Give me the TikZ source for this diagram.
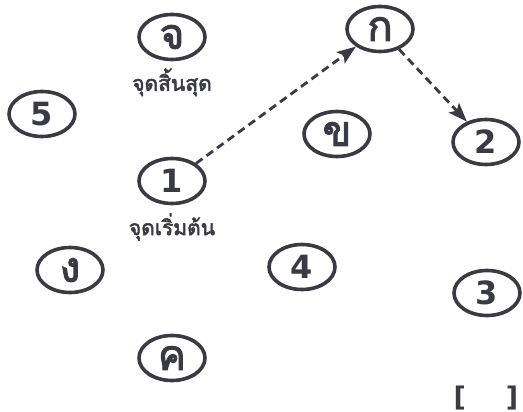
\documentclass[tikz,border=0pt]{standalone}
\usepackage{fontspec}
\newfontfamily\thaifont[Script=Thai,AutoFakeBold=2.5]{Loma}
\newfontfamily\digitfont{DejaVu Sans}
\usepackage{tikz}
\usetikzlibrary{shapes.geometric,arrows.meta,positioning}
\definecolor{ink}{RGB}{58,58,68}

\begin{document}
\begin{tikzpicture}[x=10pt,y=-10pt,
	pt/.style={ellipse,draw=ink,line width=3.6pt,text=ink,minimum width=66pt,minimum height=45pt,inner sep=0pt,font=\thaifont\bfseries\fontsize{42}{42}\selectfont},
	num/.style={pt,font=\digitfont\bfseries\fontsize{32}{32}\selectfont},
	note/.style={text=ink,inner sep=0pt,font=\thaifont\bfseries\fontsize{21}{21}\selectfont},
	route/.style={draw=ink,line width=2.8pt,dash pattern=on 8pt off 5pt,-{Stealth[length=19pt,width=14pt,inset=4pt]}}]
	\useasboundingbox (0,0) rectangle (52.3,41.2);
	%
	%  POINTS
	%
	\node[pt] (ja) at (17.2,3.7) {จ};
	\node[pt] (ka) at (38.0,2.9) {ก};
	\node[num] (n5) at (4.2,11.4) {5};
	\node[pt] (kha) at (33.7,13.4) {ข};
	\node[num] (n2) at (48.6,14.2) {2};
	\node[num] (n1) at (17.2,18.1) {1};
	\node[pt] (nga) at (7.0,27.0) {ง};
	\node[num] (n4) at (30.2,26.7) {4};
	\node[num] (n3) at (48.7,29.3) {3};
	\node[pt] (kho) at (17.2,35.8) {ค};
	%
	%  CAPTIONS
	%
	\node[note,below=7pt of ja] (janote) {จุดสิ้นสุด};
	\node[note,below=8pt of n1] (n1note) {จุดเริ่มต้น};
	\node[text=ink,inner sep=0pt,font=\digitfont\bfseries\fontsize{27}{27}\selectfont] (ans) at (48.6,39.8) {[\hspace{40pt}]};
	%
	%  ROUTE
	%
	\path[route] (n1) -- (ka);
	\path[route] (ka) -- (n2);
\end{tikzpicture}
\end{document}
